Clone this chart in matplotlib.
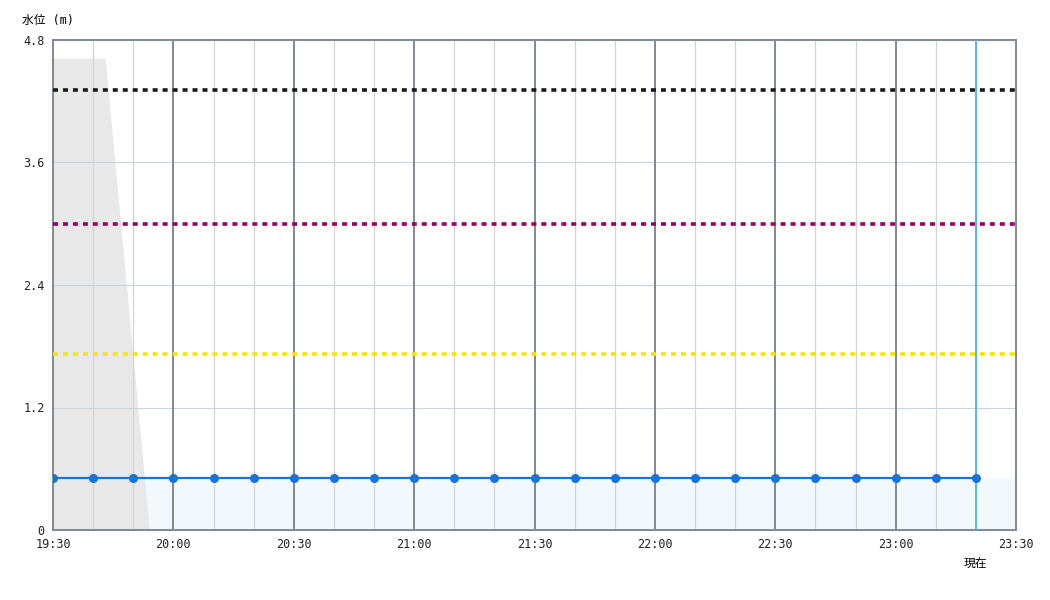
import numpy as np
import matplotlib
matplotlib.use("Agg")
import matplotlib.pyplot as plt

plt.rcParams['font.family'] = ['DejaVu Sans Mono', 'Noto Sans CJK JP']

# minutes after 19:30
obs_minutes = [0, 10, 20, 30, 40, 50, 60, 70, 80, 90, 100, 110, 120,
               130, 140, 150, 160, 170, 180, 190, 200, 210, 220, 230]
water_level = [0.51] * 24

gray_x = [0, 13, 24]
gray_y = [4.62, 4.62, 0.0]

level_black = 4.31
level_purple = 3.0
level_yellow = 1.72
now_minute = 230

tick_minutes = [0, 30, 60, 90, 120, 150, 180, 210, 240]
tick_labels = ["19:30", "20:00", "20:30", "21:00", "21:30", "22:00", "22:30", "23:00", "23:30"]
y_ticks = [0, 1.2, 2.4, 3.6, 4.8]
y_labels = ["0", "1.2", "2.4", "3.6", "4.8"]

fig = plt.figure(figsize=(10.5, 6), dpi=100)
ax = fig.add_axes([53/1050, 1-530/600, (1016-53)/1050, 490/600])
ax.set_xlim(0, 240)
ax.set_ylim(0, 4.8)

# grid
for yv in y_ticks[1:]:
    ax.axhline(yv, color="#c9d3de", lw=0.8, zorder=1)
for m in range(10, 240, 10):
    if m % 30:
        ax.axvline(m, color="#d4d4d4", lw=0.9, zorder=1)
    else:
        ax.axvline(m, color="#7d8a96", lw=1.4, zorder=1)

# fills
ax.fill_between([0, 240], 0, water_level[0], color="#f3f8fd", zorder=0.5, lw=0)
ax.fill_between(gray_x, 0, gray_y, color="#e8e8e8", zorder=0.8, lw=0)

# threshold lines
for lvl, col in [(level_black, "#1a1a1a"), (level_purple, "#990066"), (level_yellow, "#f5e600")]:
    ax.axhline(lvl, color=col, lw=2.6, linestyle=(0, (1.38, 1.38)), zorder=3)

ax.axvline(now_minute, color="#4fb8f0", lw=1.4, zorder=3)

ax.plot(obs_minutes, water_level, color="#1a73d0", lw=1.6, marker="o",
        markersize=5.5, zorder=4)

for s in ax.spines.values():
    s.set_color("#7d8a96")
    s.set_linewidth(1.4)

ax.set_xticks(tick_minutes)
ax.set_xticklabels(tick_labels, fontsize=8.5, color="#222222")
ax.set_yticks(y_ticks)
ax.set_yticklabels(y_labels, fontsize=8.5, color="#222222")
ax.tick_params(length=0, pad=6)

fig.text(22/1050, 1-20/600, "水位 (m)", fontsize=8.5, va="center", ha="left")
ax.text(now_minute, -0.055, "現在", transform=ax.get_xaxis_transform(),
        ha="center", va="top", fontsize=8.5, family=['Noto Sans CJK JP', 'DejaVu Sans'])

fig.savefig("out.png", dpi=100)
